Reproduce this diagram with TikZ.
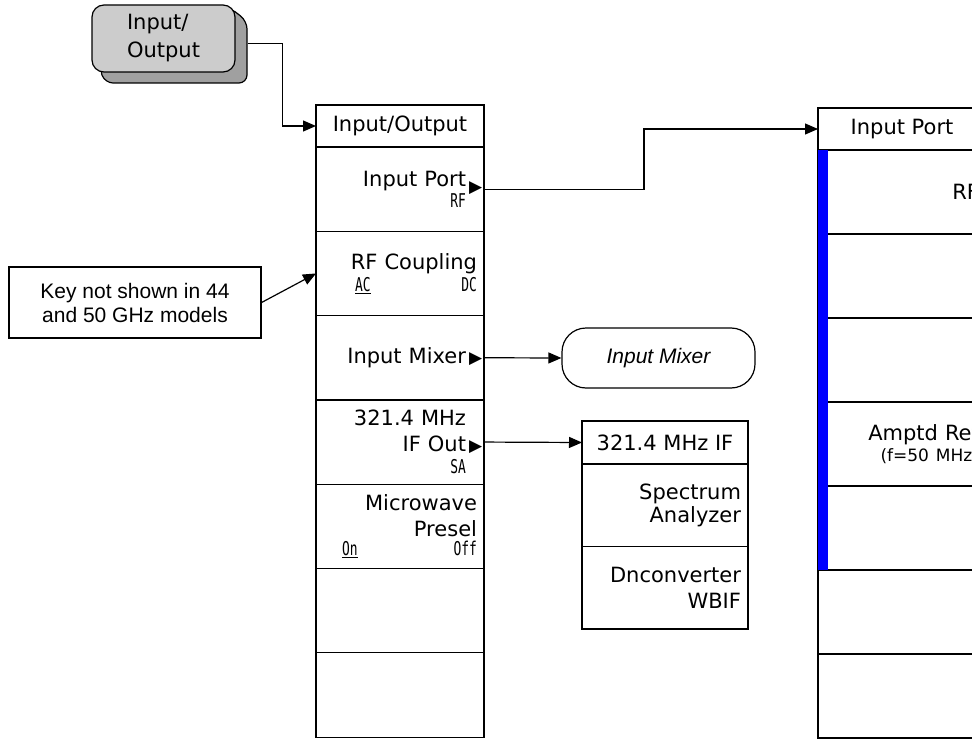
\documentclass[tikz,border=0pt]{standalone}
\usepackage{fontspec}
\usepackage{tikz}
\usetikzlibrary{arrows.meta,positioning}
\newfontfamily\menufont{DejaVu Sans}
\newfontfamily\smallfont[FakeStretch=0.68]{DejaVu Sans Mono}
\newfontfamily\notefont{Liberation Sans}
\newfontfamily\symfont{DejaVu Sans}
\definecolor{keygray}{RGB}{204,204,204}
\definecolor{keyshade}{RGB}{160,160,160}
\definecolor{barblue}{RGB}{0,0,255}
\newcommand{\keysub}[1]{{\smallfont\fontsize{19}{26}\selectfont #1}}
\newcommand{\keymid}[1]{{\menufont\fontsize{17}{26}\selectfont #1}}
\newcommand{\keytri}[1][0pt]{\rlap{\hspace{3pt}\raisebox{#1}{\symfont\fontsize{17}{17}\selectfont ▶}}}

\begin{document}
\begin{tikzpicture}[
  x=1pt, y=1pt,
  menutitle/.style={draw, line width=1.2pt, outer sep=0pt, inner sep=0pt, minimum width=168pt, minimum height=42pt, font=\menufont\fontsize{21}{26}\selectfont},
  menukey/.style={draw, line width=1.2pt, outer sep=0pt, inner sep=0pt, minimum width=168pt, minimum height=84.3pt, text width=154pt, align=right, font=\menufont\fontsize{21}{26}\selectfont},
  arrowkey/.style={menukey, text width=132pt},
  fpkey/.style={draw, line width=1.2pt, fill=keygray, rounded corners=12pt, minimum width=143pt, minimum height=67pt, align=left, font=\menufont\fontsize{21}{28}\selectfont},
  note/.style={draw, line width=1.2pt, minimum width=252pt, minimum height=71pt, align=center, font=\notefont\fontsize{21}{24}\selectfont},
  pill/.style={draw, line width=1.2pt, rounded corners=24pt, minimum width=193pt, minimum height=60pt, font=\notefont\itshape\fontsize{21}{24}\selectfont},
  conn/.style={-{Triangle[length=13pt,width=11pt]}, line width=1.2pt}
]
\useasboundingbox (0,0) rectangle (972,-741);
\clip (0,0) rectangle (972,-741);

% front panel key
\filldraw[line width=1.2pt, fill=keyshade, rounded corners=8pt] (229,-7) -- (247,-21) -- (247,-83) -- (105,-83) -- (99,-67) -- cycle;
\node[fpkey] (iokey) at (163.5,-38.5) {Input/\\Output};

% Input/Output menu
\node[menutitle] (iomenu) at (400,-126) {Input/Output};
\node[arrowkey, below=0pt of iomenu] (inport) {Input Port\keytri[-6pt]\\[-5pt]\keysub{RF}};
\node[menukey, below=0pt of inport] (rfkey) {RF Coupling\\[-4pt]\keysub{\hspace*{32pt}\underline{AC}\hfill DC}};
\node[arrowkey, below=0pt of rfkey] (mixkey) {Input Mixer\keytri};
\node[arrowkey, below=0pt of mixkey] (ifkey) {321.4 MHz\\IF Out\keytri\\[-4pt]\keysub{SA}};
\node[menukey, below=0pt of ifkey] (preselkey) {Microwave\\Presel\\[-7pt]\keysub{\hspace*{19pt}\underline{On}\hfill Off}};
\node[menukey, below=0pt of preselkey] (iokey7) {};
\node[menukey, below=0pt of iokey7] (iokey8) {};

% Input Port menu
\node[menutitle] (ptmenu) at (902,-129) {Input Port};
\node[menukey, minimum height=84pt, below=0pt of ptmenu] (pt1) {RF};
\node[menukey, minimum height=84pt, below=0pt of pt1] (pt2) {};
\node[menukey, minimum height=84pt, below=0pt of pt2] (pt3) {};
\node[menukey, minimum height=84pt, below=0pt of pt3] (pt4) {Amptd Ref\\[-5pt]\keymid{(f=50 MHz)}};
\node[menukey, minimum height=84pt, below=0pt of pt4] (pt5) {};
\node[menukey, minimum height=84pt, below=0pt of pt5] (pt6) {};
\node[menukey, minimum height=84pt, below=0pt of pt6] (pt7) {};
\draw[line width=2.5pt] (pt1.south west) -- (pt1.south east);
\fill[barblue] (pt1.north west) rectangle ([xshift=10pt]pt5.south west);

% 321.4 MHz IF menu
\node[menutitle, minimum width=166pt, minimum height=43pt] (iftitle) at (665,-442.5) {321.4 MHz IF};
\node[menukey, minimum width=166pt, minimum height=82.5pt, text width=152pt, below=0pt of iftitle] (ifsa) {Spectrum\\[-3pt]Analyzer};
\node[menukey, minimum width=166pt, minimum height=82.5pt, text width=152pt, below=0pt of ifsa] (ifdn) {Dnconverter\\WBIF};

\node[pill] (mixer) at (658.5,-358) {Input Mixer};
\node[note] (note) at (135,-302.5) {Key not shown in 44\\and 50 GHz models};

\draw[conn] ([shift={(12pt,-5pt)}]iokey.east) -- ++(35pt,0) |- (iomenu.west);
\draw[conn] (inport.east) -- ++(160pt,0) |- (ptmenu.west);
\draw[conn] (note.east) -- (rfkey.west);
\draw[conn] (mixkey.east) -- (mixer.west);
\draw[conn] (ifkey.east) -- (iftitle.west);
\end{tikzpicture}
\end{document}
